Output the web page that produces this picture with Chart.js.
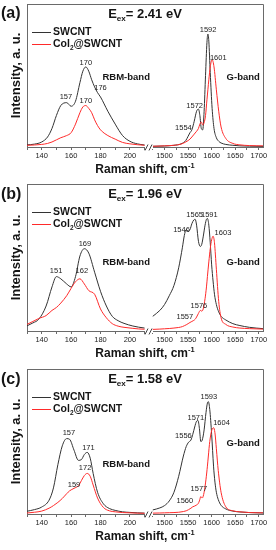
<!DOCTYPE html>
<html>
<head>
<meta charset="utf-8">
<script src="https://cdn.jsdelivr.net/npm/chart.js@4"></script>
<style>
  body { margin: 0; background: #fff; width: 276px; height: 550px; position: relative; overflow: hidden; }
  .panel { position: absolute; left: 0; width: 276px; }
</style>
</head>
<body>
<div class="panel" style="top:0;height:183px"><canvas id="chart-a"></canvas></div>
<div class="panel" style="top:181px;height:186px"><canvas id="chart-b"></canvas></div>
<div class="panel" style="top:366px;height:184px"><canvas id="chart-c"></canvas></div>
<script>
// axis ticks (the break splits the Raman shift axis in two)
const rbmTicks = [130, 140, 150, 160, 170, 180, 190, 200, 210];
const rbmTickLabels = [140, 160, 180, 200];
const gTicks = [1475, 1500, 1525, 1550, 1575, 1600, 1625, 1650, 1675, 1700];
const gTickLabels = [1500, 1550, 1600, 1650, 1700];

// (a) Eex = 2.41 eV
const aRbmShift = [130, 135, 140, 144, 147, 150, 153, 157, 160, 163, 166, 168, 170, 172, 174, 176, 178, 180, 185, 190, 195, 200, 205, 210];
const aRbmSwcnt = [0.015, 0.02, 0.035, 0.07, 0.13, 0.22, 0.29, 0.31, 0.285, 0.32, 0.45, 0.53, 0.56, 0.53, 0.47, 0.42, 0.38, 0.35, 0.25, 0.16, 0.08, 0.04, 0.022, 0.014];
const aRbmCol = [0.012, 0.014, 0.018, 0.025, 0.035, 0.05, 0.065, 0.08, 0.10, 0.16, 0.24, 0.28, 0.29, 0.27, 0.24, 0.19, 0.15, 0.12, 0.08, 0.055, 0.032, 0.022, 0.016, 0.012];
const aGShift = [1475, 1500, 1520, 1535, 1545, 1550, 1554, 1558, 1563, 1568, 1572, 1575, 1578, 1581, 1584, 1587, 1590, 1592, 1594, 1597, 1601, 1605, 1610, 1615, 1620, 1630, 1645, 1660, 1680, 1709];
const aGSwcnt = [0.005, 0.007, 0.012, 0.022, 0.045, 0.075, 0.10, 0.12, 0.18, 0.25, 0.265, 0.22, 0.13, 0.12, 0.25, 0.50, 0.73, 0.79, 0.74, 0.52, 0.27, 0.13, 0.065, 0.04, 0.028, 0.018, 0.012, 0.008, 0.006, 0.004];
const aGCol = [0.005, 0.008, 0.012, 0.02, 0.035, 0.045, 0.055, 0.07, 0.09, 0.11, 0.13, 0.16, 0.175, 0.155, 0.17, 0.22, 0.33, 0.40, 0.47, 0.56, 0.61, 0.56, 0.40, 0.25, 0.14, 0.06, 0.025, 0.015, 0.01, 0.008];
const aPeaks = [['rbm', 156.5, 0.35, '157'], ['rbm', 170, 0.59, '170'], ['rbm', 180, 0.41, '176'], ['rbm', 170, 0.32, '170'],
  ['g', 1540, 0.13, '1554'], ['g', 1564, 0.29, '1572'], ['g', 1592.5, 0.82, '1592'], ['g', 1614, 0.62, '1601']];

// (b) Eex = 1.96 eV
const bRbmShift = [130, 134, 138, 143, 147, 150, 153, 157, 160, 163, 166, 169, 172, 176, 180, 184, 188, 192, 196, 202, 206, 210];
const bRbmSwcnt = [0.035, 0.055, 0.08, 0.17, 0.30, 0.37, 0.355, 0.32, 0.30, 0.37, 0.51, 0.56, 0.53, 0.40, 0.27, 0.17, 0.10, 0.07, 0.052, 0.034, 0.026, 0.02];
const bRbmCol = [0.045, 0.065, 0.085, 0.105, 0.14, 0.16, 0.19, 0.24, 0.29, 0.335, 0.355, 0.32, 0.275, 0.25, 0.15, 0.09, 0.05, 0.033, 0.025, 0.018, 0.014, 0.012];
const bGShift = [1475, 1490, 1500, 1510, 1520, 1530, 1538, 1542, 1546, 1550, 1554, 1558, 1562, 1565, 1568, 1572, 1576, 1579, 1582, 1586, 1589, 1591, 1594, 1597, 1600, 1603, 1606, 1610, 1615, 1620, 1630, 1645, 1660, 1680, 1709];
const bGSwcnt = [0.10, 0.14, 0.18, 0.24, 0.31, 0.43, 0.57, 0.65, 0.69, 0.68, 0.69, 0.73, 0.755, 0.76, 0.72, 0.61, 0.575, 0.59, 0.64, 0.72, 0.76, 0.765, 0.72, 0.60, 0.45, 0.34, 0.25, 0.18, 0.13, 0.10, 0.075, 0.05, 0.037, 0.025, 0.016];
const bGCol = [0.011, 0.013, 0.015, 0.017, 0.02, 0.024, 0.03, 0.036, 0.042, 0.05, 0.058, 0.065, 0.072, 0.08, 0.095, 0.12, 0.14, 0.135, 0.15, 0.22, 0.30, 0.37, 0.47, 0.56, 0.62, 0.645, 0.60, 0.42, 0.20, 0.09, 0.045, 0.027, 0.02, 0.016, 0.013];
const bPeaks = [['rbm', 149.8, 0.41, '151'], ['rbm', 169.4, 0.59, '169'], ['rbm', 167.3, 0.41, '162'],
  ['g', 1536, 0.69, '1546'], ['g', 1564, 0.79, '1565'], ['g', 1595, 0.79, '1591'], ['g', 1624, 0.67, '1603'],
  ['g', 1573, 0.17, '1576'], ['g', 1543, 0.095, '1557']];

// (c) Eex = 1.58 eV
const cRbmShift = [130, 135, 140, 145, 148, 151, 154, 157, 159, 162, 165, 167, 169, 171, 173, 175, 178, 182, 186, 190, 195, 200, 205, 210];
const cRbmSwcnt = [0.019, 0.03, 0.048, 0.095, 0.18, 0.34, 0.47, 0.52, 0.515, 0.44, 0.37, 0.375, 0.41, 0.425, 0.385, 0.28, 0.15, 0.07, 0.038, 0.025, 0.015, 0.011, 0.008, 0.006];
const cRbmCol = [0.007, 0.012, 0.02, 0.04, 0.058, 0.08, 0.107, 0.14, 0.16, 0.177, 0.195, 0.23, 0.265, 0.28, 0.26, 0.2, 0.11, 0.045, 0.022, 0.015, 0.01, 0.008, 0.006, 0.005];
const cGShift = [1475, 1490, 1500, 1510, 1520, 1530, 1540, 1546, 1551, 1556, 1560, 1564, 1568, 1571, 1574, 1577, 1580, 1584, 1588, 1591, 1593, 1596, 1600, 1604, 1607, 1610, 1614, 1620, 1630, 1645, 1660, 1680, 1709];
const cGSwcnt = [0.028, 0.042, 0.058, 0.09, 0.15, 0.26, 0.40, 0.465, 0.495, 0.51, 0.55, 0.60, 0.64, 0.645, 0.59, 0.50, 0.51, 0.58, 0.70, 0.765, 0.775, 0.72, 0.55, 0.33, 0.22, 0.15, 0.10, 0.06, 0.035, 0.02, 0.014, 0.01, 0.007];
const cGCol = [0.006, 0.007, 0.008, 0.009, 0.01, 0.012, 0.017, 0.022, 0.03, 0.04, 0.05, 0.055, 0.062, 0.07, 0.09, 0.12, 0.11, 0.15, 0.24, 0.33, 0.40, 0.50, 0.575, 0.595, 0.56, 0.45, 0.30, 0.15, 0.05, 0.022, 0.015, 0.01, 0.008];
const cPeaks = [['rbm', 158.5, 0.56, '157'], ['rbm', 171.8, 0.455, '171'], ['rbm', 169.5, 0.315, '172'], ['rbm', 162, 0.2, '159'],
  ['g', 1540, 0.54, '1556'], ['g', 1566.5, 0.665, '1571'], ['g', 1594, 0.81, '1593'], ['g', 1621, 0.63, '1604'],
  ['g', 1573, 0.17, '1577'], ['g', 1543, 0.093, '1560']];

const FONT = "'Liberation Sans', Arial, sans-serif";
const BLACK = '#333333';
const RED = '#ff2a2a';
const FRAME = '#6a6a6a';
const TEXT = '#151515';
Chart.defaults.font.family = FONT;

const legendNames = [[['SWCNT', '']], [['Col', ''], ['2', 'sub'], ['@SWCNT', '']]];

function pts(xs, ys) {
  return xs.map((x, i) => ({ x: x, y: ys[i] }));
}

// text with sub/superscript pieces
function drawRich(ctx, parts, x, y, size, weight, align) {
  const widths = parts.map(([t, k]) => {
    ctx.font = `${weight} ${k ? size * 0.62 : size}px ${FONT}`;
    return ctx.measureText(t).width;
  });
  const total = widths.reduce((a, b) => a + b, 0);
  let cx = align === 'center' ? x - total / 2 : x;
  ctx.textAlign = 'left';
  ctx.textBaseline = 'middle';
  parts.forEach(([t, k], i) => {
    ctx.font = `${weight} ${k ? size * 0.62 : size}px ${FONT}`;
    const dy = k === 'sub' ? size * 0.33 : k === 'sup' ? -size * 0.33 : 0;
    ctx.fillText(t, cx, y + dy);
    cx += widths[i];
  });
}

const decor = {
  id: 'decor',
  afterDraw(chart, args, opts) {
    const { ctx, chartArea: area, scales } = chart;
    const bottom = Math.round(area.bottom) + 0.5;
    ctx.save();
    // top and right of the frame
    ctx.strokeStyle = FRAME;
    ctx.lineWidth = 1;
    ctx.beginPath();
    ctx.moveTo(area.left, Math.round(area.top) + 0.5);
    ctx.lineTo(Math.round(area.right) + 0.5, Math.round(area.top) + 0.5);
    ctx.lineTo(Math.round(area.right) + 0.5, bottom);
    ctx.stroke();

    // axis break
    const bx = scales.x1.right;
    ctx.fillStyle = '#fff';
    ctx.fillRect(bx - 4, bottom - 1.5, 8, 3);
    ctx.strokeStyle = '#444';
    ctx.beginPath();
    ctx.moveTo(bx - 4, bottom + 3); ctx.lineTo(bx - 1, bottom - 3);
    ctx.moveTo(bx, bottom + 3); ctx.lineTo(bx + 3, bottom - 3);
    ctx.stroke();

    ctx.fillStyle = TEXT;
    // panel letter and excitation energy
    ctx.font = `bold 16px ${FONT}`;
    ctx.textAlign = 'left';
    ctx.textBaseline = 'middle';
    ctx.fillText(opts.letter, 1, 14);
    drawRich(ctx, [['E', ''], ['ex', 'sub'], ['= ' + opts.energy + ' eV', '']],
      (area.left + area.right) / 2, area.top + 10, 13, 'bold', 'center');

    // legend
    [BLACK, RED].forEach((col, i) => {
      const ly = Math.round(area.top + 28 + i * 12) + 0.5;
      ctx.strokeStyle = col;
      ctx.beginPath();
      ctx.moveTo(area.left + 5, ly);
      ctx.lineTo(area.left + 24, ly);
      ctx.stroke();
      ctx.fillStyle = TEXT;
      drawRich(ctx, legendNames[i], area.left + 26, ly, 10.5, 'bold', 'left');
    });

    // band names
    ctx.fillStyle = TEXT;
    ctx.font = `bold 9.5px ${FONT}`;
    ctx.textAlign = 'center';
    ctx.fillText('RBM-band', scales.x1.getPixelForValue(197.5), scales.y.getPixelForValue(opts.bands[0]));
    ctx.fillText('G-band', scales.x2.getPixelForValue(1667), scales.y.getPixelForValue(opts.bands[1]));

    // peak positions
    ctx.font = `7.5px ${FONT}`;
    ctx.fillStyle = '#222';
    opts.peaks.forEach(([part, x, y, t]) => {
      const xs = part === 'rbm' ? scales.x1 : scales.x2;
      ctx.fillText(t, xs.getPixelForValue(x), scales.y.getPixelForValue(y));
    });

    // x axis title
    ctx.fillStyle = TEXT;
    drawRich(ctx, [['Raman shift, cm', ''], ['-1', 'sup']], (area.left + area.right) / 2, area.bottom + 23, 12, 'bold', 'center');
    ctx.restore();
  }
};

function tickOpts(labels) {
  return {
    callback: v => labels.includes(v) ? String(v) : '',
    font: { size: 7.5 }, color: '#222', padding: 1, maxRotation: 0, autoSkip: false
  };
}

function makePanel(id, letter, energy, rbm, g, peaks, bands, topPad) {
  new Chart(document.getElementById(id), {
    type: 'line',
    data: {
      datasets: [
        { label: 'SWCNT', xAxisID: 'x1', data: pts(rbm[0], rbm[1]), borderColor: BLACK, order: 2 },
        { label: 'Col2@SWCNT', xAxisID: 'x1', data: pts(rbm[0], rbm[2]), borderColor: RED, order: 1 },
        { label: 'SWCNT', xAxisID: 'x2', data: pts(g[0], g[1]), borderColor: BLACK, order: 2 },
        { label: 'Col2@SWCNT', xAxisID: 'x2', data: pts(g[0], g[2]), borderColor: RED, order: 1 }
      ]
    },
    options: {
      responsive: true,
      maintainAspectRatio: false,
      animation: false,
      layout: { padding: { top: topPad, right: 13, left: 0, bottom: 0 } },
      elements: {
        point: { radius: 0 },
        line: { borderWidth: 1, cubicInterpolationMode: 'monotone' }
      },
      plugins: {
        legend: { display: false },
        tooltip: { enabled: false },
        decor: { letter: letter, energy: energy, peaks: peaks, bands: bands }
      },
      scales: {
        x1: {
          type: 'linear', position: 'bottom', stack: 'shift', stackWeight: 122,
          min: 130, max: 213,
          afterBuildTicks: s => { s.ticks = rbmTicks.map(v => ({ value: v })); },
          afterFit: s => { s.height = 36; },
          ticks: tickOpts(rbmTickLabels),
          grid: { drawOnChartArea: false, tickLength: 3, color: FRAME },
          border: { color: FRAME }
        },
        x2: {
          type: 'linear', position: 'bottom', stack: 'shift', stackWeight: 114,
          min: 1467, max: 1709,
          afterBuildTicks: s => { s.ticks = gTicks.map(v => ({ value: v })); },
          afterFit: s => { s.height = 36; },
          ticks: tickOpts(gTickLabels),
          grid: { drawOnChartArea: false, tickLength: 3, color: FRAME },
          border: { color: FRAME }
        },
        y: {
          min: 0, max: 1,
          afterFit: s => { s.width = 27; },
          ticks: { display: false },
          grid: { drawOnChartArea: false, drawTicks: false },
          border: { color: FRAME },
          title: { display: true, text: 'Intensity, a. u.', color: TEXT, font: { size: 13, weight: 'bold' }, padding: { top: 9, bottom: 0 } }
        }
      }
    },
    plugins: [decor]
  });
}

makePanel('chart-a', '(a)', '2.41', [aRbmShift, aRbmSwcnt, aRbmCol], [aGShift, aGSwcnt, aGCol], aPeaks, [0.49, 0.49], 4);
makePanel('chart-b', '(b)', '1.96', [bRbmShift, bRbmSwcnt, bRbmCol], [bGShift, bGSwcnt, bGCol], bPeaks, [0.47, 0.47], 3);
makePanel('chart-c', '(c)', '1.58', [cRbmShift, cRbmSwcnt, cRbmCol], [cGShift, cGSwcnt, cGCol], cPeaks, [0.345, 0.49], 3);
</script>
</body>
</html>
